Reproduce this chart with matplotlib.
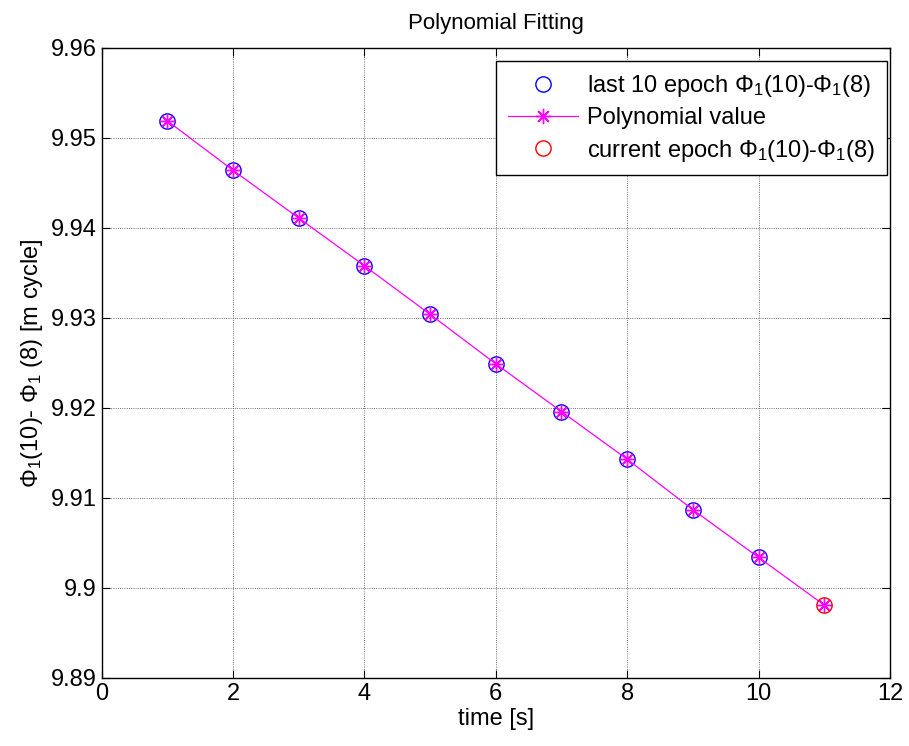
import numpy as np
from matplotlib import pyplot as plt

plt.rcParams['font.family'] = ['Liberation Sans', 'DejaVu Sans']
plt.rcParams['mathtext.fontset'] = 'custom'
plt.rcParams['mathtext.rm'] = 'Liberation Sans'
plt.rcParams['mathtext.it'] = 'Liberation Sans'

# last 10 epochs and the current one
t_last = [1, 2, 3, 4, 5, 6, 7, 8, 9, 10]
phi_last = [9.9519, 9.9464, 9.9411, 9.9358, 9.9304, 9.9249, 9.9196, 9.9143, 9.9087, 9.9034]
t_poly = [1, 2, 3, 4, 5, 6, 7, 8, 9, 10, 11]
phi_poly = [9.9519, 9.9464, 9.9411, 9.9358, 9.9304, 9.9249, 9.9196, 9.9143, 9.9087, 9.9034, 9.8981]
t_cur = [11]
phi_cur = [9.8981]

fig = plt.figure(figsize=(9.09, 7.46), dpi=100)
ax = fig.add_axes([0.1119, 0.0912, 0.8671, 0.8445])

star = (8, 2, 0)  # matlab style asterisk
ax.plot(t_last, phi_last, 'o', mfc='none', mec='blue', ms=11, mew=1.0,
        label=r'last 10 epoch $\Phi_1$(10)-$\Phi_1$(8)')
ax.plot(t_poly, phi_poly, '-', marker=star, color='magenta', ms=11, lw=0.9, mew=1.0,
        label='Polynomial value')
ax.plot(t_cur, phi_cur, 'o', mfc='none', mec='red', ms=11, mew=1.0,
        label=r'current epoch $\Phi_1$(10)-$\Phi_1$(8)')

ax.set_xlim(0, 12)
ax.set_ylim(9.89, 9.96)
ax.set_xticks(np.arange(0, 13, 2))
ax.set_yticks([9.89, 9.9, 9.91, 9.92, 9.93, 9.94, 9.95, 9.96])
ax.set_yticklabels(['9.89', '9.9', '9.91', '9.92', '9.93', '9.94', '9.95', '9.96'])
ax.tick_params(direction='in', top=True, right=True, labelsize=17, length=6, width=0.8)
ax.grid(True, linestyle=':', color='0.25', linewidth=0.6)
for s in ax.spines.values():
    s.set_linewidth(1.0)

ax.set_title('Polynomial Fitting', fontsize=16, pad=14)
ax.set_xlabel('time [s]', fontsize=17, labelpad=2)
ax.set_ylabel(r'$\Phi_1$(10)- $\Phi_1$ (8) [m cycle]', fontsize=17, labelpad=4)

leg = ax.legend(loc='upper right', bbox_to_anchor=(0.996, 0.979), fontsize=17,
                fancybox=False, framealpha=1, edgecolor='black', borderaxespad=0,
                handlelength=3.0, handletextpad=0.35, labelspacing=0.35, borderpad=0.5)
leg.get_frame().set_linewidth(1.0)

fig.savefig('out.png', dpi=100)
